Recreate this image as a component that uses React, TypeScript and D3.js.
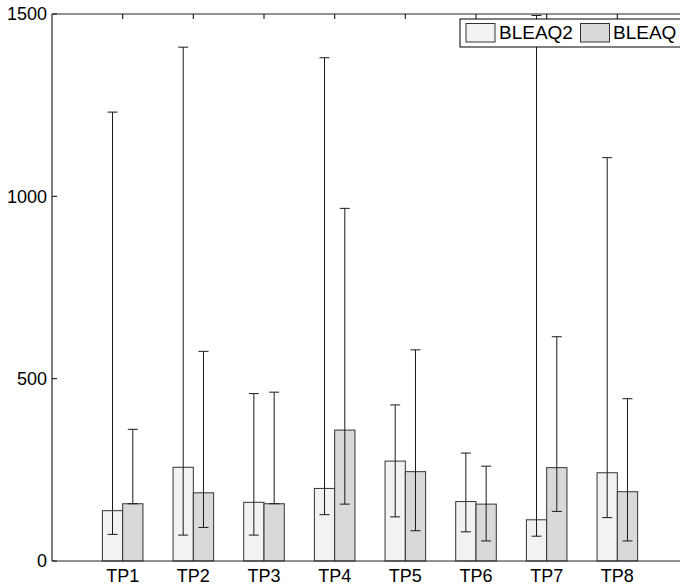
import React from "react";
import * as d3 from "d3";

// values
const categories = ["TP1", "TP2", "TP3", "TP4", "TP5", "TP6", "TP7", "TP8"];
const seriesNames = ["BLEAQ2", "BLEAQ"];
const bleaq2Mean = [138, 257, 161, 199, 274, 163, 113, 242];
const bleaq2Low = [73, 71, 71, 127, 121, 80, 68, 119];
const bleaq2High = [1231, 1409, 459, 1380, 428, 296, 1496, 1106];
const bleaqMean = [157, 187, 157, 359, 245, 156, 256, 190];
const bleaqLow = [157, 92, 157, 156, 83, 55, 136, 55];
const bleaqHigh = [361, 575, 463, 967, 579, 260, 615, 445];
const yTicks = [0, 500, 1000, 1500];

const fills = ["#f2f2f2", "#d9d9d9"];
const font = "'Liberation Sans', Arial, sans-serif";

const App = () => {
  const width = 680;
  const height = 588;
  const margin = { left: 52, top: 14, bottom: 27 };
  const plotRight = 688; // axis box runs past the picture edge

  const x = d3.scaleLinear().domain([0, categories.length + 1]).range([margin.left, plotRight]);
  const y = d3.scaleLinear().domain([0, 1500]).range([height - margin.bottom, margin.top]);

  const barW = 0.287;
  const series = [
    { mean: bleaq2Mean, low: bleaq2Low, high: bleaq2High, off: -barW / 2 },
    { mean: bleaqMean, low: bleaqLow, high: bleaqHigh, off: barW / 2 },
  ];
  const bw = x(barW) - x(0);
  const cap = 5;

  return (
    <svg width={width} height={height} style={{ position: "absolute", left: 0, top: 0, background: "#fff" }}>
      {/* bars */}
      {series.map((s, si) =>
        categories.map((c, i) => {
          const cx = x(i + 1 + s.off);
          return (
            <rect key={`b${si}-${i}`} x={cx - bw / 2} y={y(s.mean[i])} width={bw}
              height={y(0) - y(s.mean[i])} fill={fills[si]} stroke="#333" strokeWidth={1} />
          );
        })
      )}
      {/* error bars */}
      {series.map((s, si) =>
        categories.map((c, i) => {
          const cx = x(i + 1 + s.off);
          return (
            <g key={`e${si}-${i}`} stroke="#1a1a1a" strokeWidth={1}>
              <line x1={cx} x2={cx} y1={y(s.low[i])} y2={y(s.high[i])} />
              <line x1={cx - cap} x2={cx + cap} y1={y(s.low[i])} y2={y(s.low[i])} />
              <line x1={cx - cap} x2={cx + cap} y1={y(s.high[i])} y2={y(s.high[i])} />
            </g>
          );
        })
      )}
      {/* axes box */}
      <g stroke="#262626" strokeWidth={1.2} fill="none">
        <line x1={margin.left} x2={plotRight} y1={y(0)} y2={y(0)} />
        <line x1={margin.left} x2={plotRight} y1={y(1500)} y2={y(1500)} />
        <line x1={margin.left} x2={margin.left} y1={y(0)} y2={y(1500)} />
        {yTicks.map((t) => (
          <line key={`yt${t}`} x1={margin.left} x2={margin.left + 5} y1={y(t)} y2={y(t)} />
        ))}
        {categories.map((c, i) => (
          <line key={`xt${c}`} x1={x(i + 1)} x2={x(i + 1)} y1={y(1500)} y2={y(1500) + 5} />
        ))}
      </g>
      {yTicks.map((t) => (
        <text key={`yl${t}`} x={47} y={y(t)} dy="0.36em" textAnchor="end" fontFamily={font} fontSize={18} fill="#000">
          {t}
        </text>
      ))}
      {categories.map((c, i) => (
        <text key={`xl${c}`} x={x(i + 1)} y={582} textAnchor="middle" fontFamily={font} fontSize={18} fill="#000">
          {c}
        </text>
      ))}
      {/* legend */}
      <g>
        <rect x={460} y={19} width={260} height={28} fill="#fff" stroke="#000" strokeWidth={1} />
        <rect x={466} y={23.5} width={29} height={18.5} fill={fills[0]} stroke="#333" />
        <text x={499} y={39} fontFamily={font} fontSize={19} fill="#000">{seriesNames[0]}</text>
        <rect x={580.5} y={23.5} width={29} height={18.5} fill={fills[1]} stroke="#333" />
        <text x={613} y={39} fontFamily={font} fontSize={19} fill="#000">{seriesNames[1]}</text>
      </g>
    </svg>
  );
};

export default App;
